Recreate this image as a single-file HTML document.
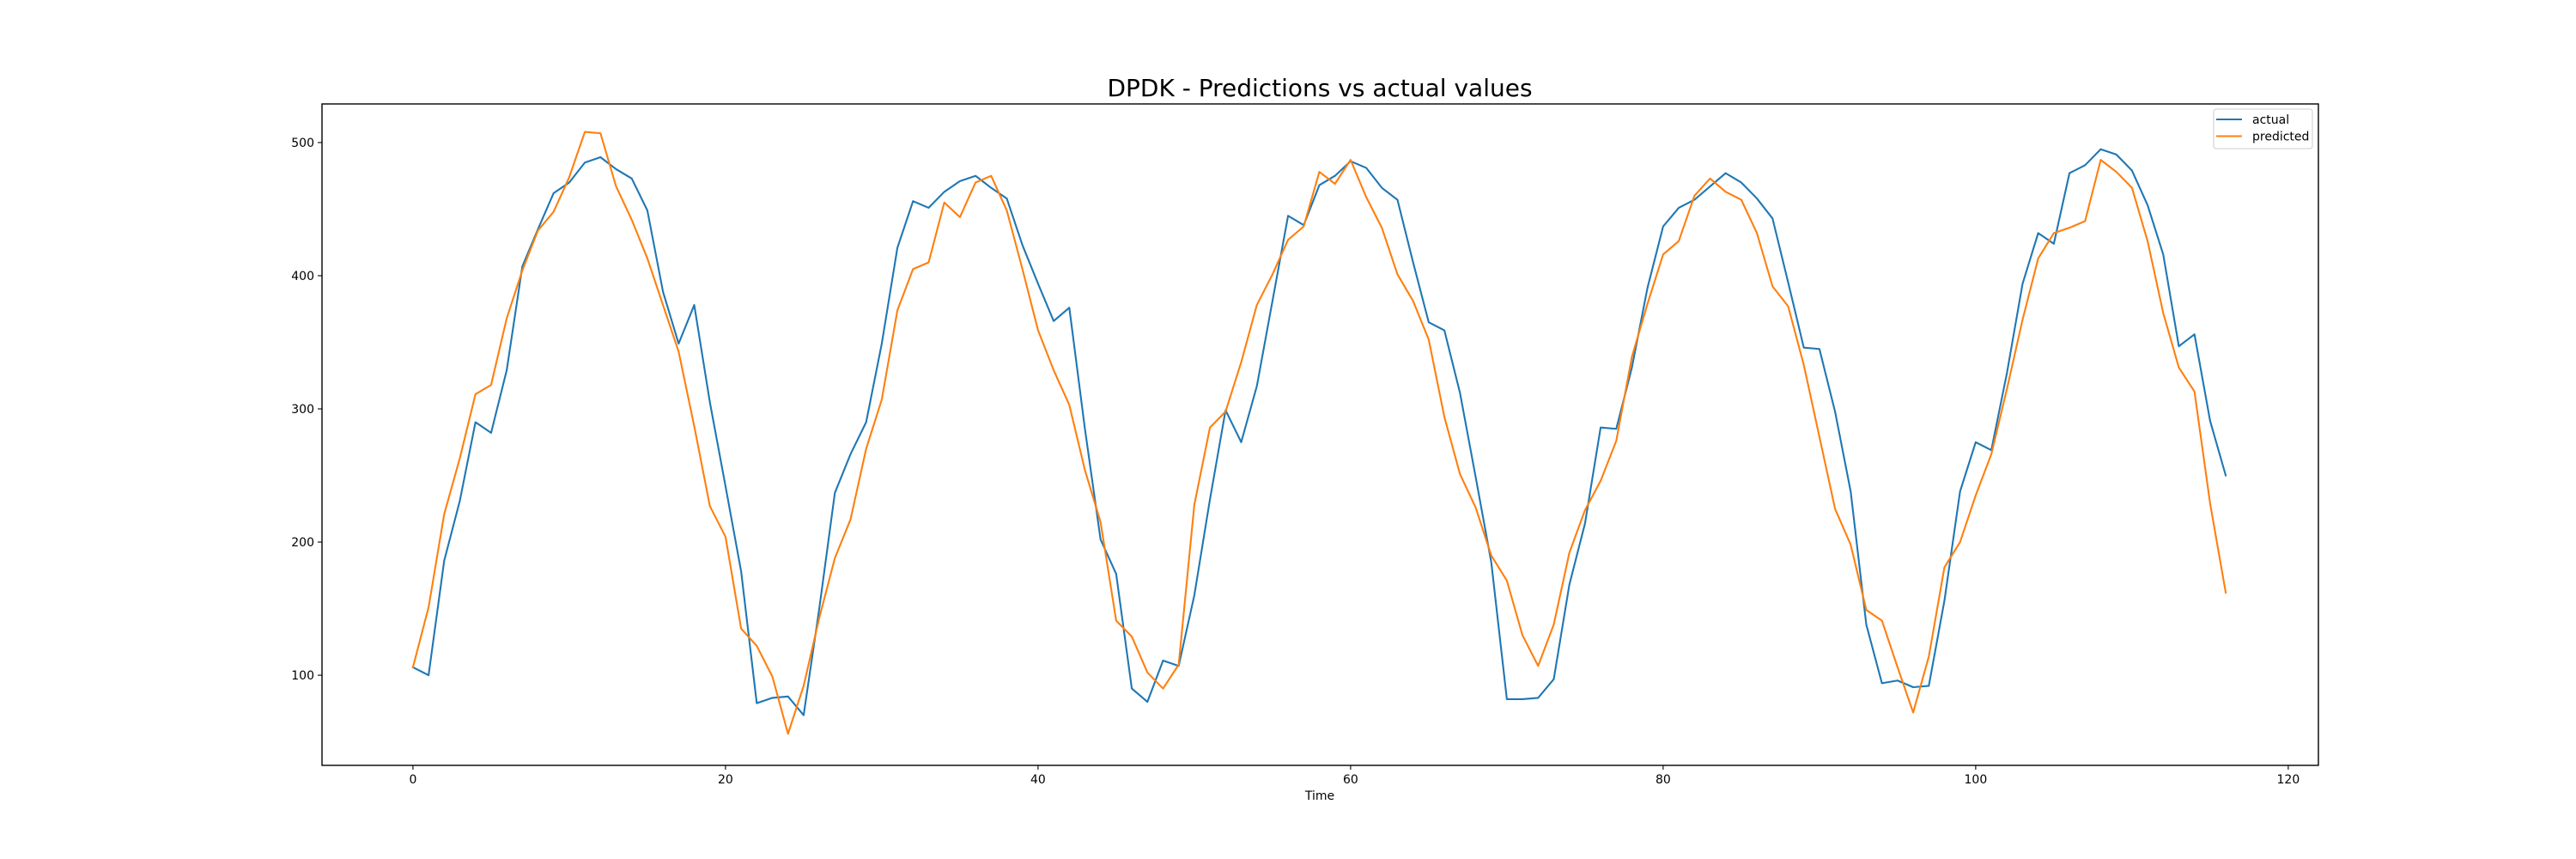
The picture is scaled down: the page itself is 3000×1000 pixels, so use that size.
<!DOCTYPE html>
<html><head><meta charset="utf-8"><style>
html,body{margin:0;padding:0;background:#fff;}
svg{display:block;font-family:"DejaVu Sans","Liberation Sans",sans-serif;}
</style></head><body>
<svg id="chart" width="3000" height="1000" viewBox="0 0 3000 1000">
<rect x="0" y="0" width="3000" height="1000" fill="#fff"/>
<text x="1537" y="112" text-anchor="middle" font-size="28" fill="#000">DPDK - Predictions vs actual values</text>
<g id="plot"></g>
<rect x="375" y="121" width="2325" height="770" fill="none" stroke="#000" stroke-width="1.4"/>
<text x="1537" y="931" text-anchor="middle" font-size="14" fill="#000">Time</text>
<g>
<rect x="2578" y="127" width="115" height="46" rx="3" fill="#fff" fill-opacity="0.8" stroke="#ccc" stroke-width="1"/>
<line x1="2581" y1="139" x2="2611" y2="139" stroke="#1f77b4" stroke-width="2.1"/>
<text x="2623" y="144" font-size="14" fill="#000">actual</text>
<line x1="2581" y1="158.5" x2="2611" y2="158.5" stroke="#ff7f0e" stroke-width="2.1"/>
<text x="2623" y="163.5" font-size="14" fill="#000">predicted</text>
</g>
</svg>
<script>
const actual = [106,100,186,231,290,282,329,407,435,462,470,485,489,480,473,449,388,349,378,305,242,178,79,83,84,70,150,237,266,290,349,421,456,451,463,471,475,466,458,423,394,366,376,285,202,176,90,80,111,107,160,232,299,275,317,381,445,438,468,475,486,481,466,457,410,365,359,312,249,185,82,82,83,97,168,214,286,285,331,391,437,451,457,467,477,470,458,443,395,346,345,298,238,138,94,96,91,92,156,238,275,269,327,394,432,424,477,483,495,491,479,453,416,347,356,291,250];
const predicted = [106,151,221,263,311,318,368,404,434,448,474,508,507,467,442,413,378,343,287,227,204,135,122,99,56,92,143,188,217,270,307,374,405,410,455,444,470,475,449,405,359,329,303,254,215,141,129,102,90,108,228,286,298,335,378,401,427,437,478,469,487,459,436,401,381,352,294,251,226,190,171,130,107,138,192,224,246,276,339,379,416,426,460,473,463,457,432,392,377,333,279,225,198,149,141,106,72,114,181,200,235,266,315,367,413,432,436,441,487,478,466,426,372,331,313,229,162];
const xTicks = [0,20,40,60,80,100,120];
const yTicks = [100,200,300,400,500];

const NS = "http://www.w3.org/2000/svg";
const L=375,R=2700,T=121,B=891;
const xmin=-5.82,xmax=121.93,ymin=32.3,ymax=529;
function xs(v){return L+(v-xmin)/(xmax-xmin)*(R-L);}
function ys(v){return B-(v-ymin)/(ymax-ymin)*(B-T);}
const plot=document.getElementById('plot');
function mk(tag,attrs,parent){const e=document.createElementNS(NS,tag);for(const k in attrs)e.setAttribute(k,attrs[k]);(parent||plot).appendChild(e);return e;}

xTicks.forEach(t=>{
  const g=mk('g',{});
  
  
  mk('line',{x1:xs(t),x2:xs(t),y1:B,y2:B+5,stroke:'#000','stroke-width':1.1},g);
  const tx=mk('text',{x:xs(t),y:B+21,'text-anchor':'middle','font-size':14,fill:'#000'},g);
  tx.textContent=t;
});
yTicks.forEach(t=>{
  const g=mk('g',{});
  
  
  mk('line',{x1:L-5,x2:L,y1:ys(t),y2:ys(t),stroke:'#000','stroke-width':1.1},g);
  const tx=mk('text',{x:L-9,y:ys(t)+5,'text-anchor':'end','font-size':14,fill:'#000'},g);
  tx.textContent=t;
});
function series(arr,color,name){
  const pts=arr.map((v,i)=>xs(i).toFixed(2)+','+ys(v).toFixed(2)).join(' ');
  const p=mk('polyline',{points:pts,fill:'none',stroke:color,'stroke-width':2.1,'stroke-linejoin':'round','stroke-linecap':'square'});
  
  
}
series(actual,'#1f77b4','actual-line');
series(predicted,'#ff7f0e','predicted-line');
</script>
</body></html>
